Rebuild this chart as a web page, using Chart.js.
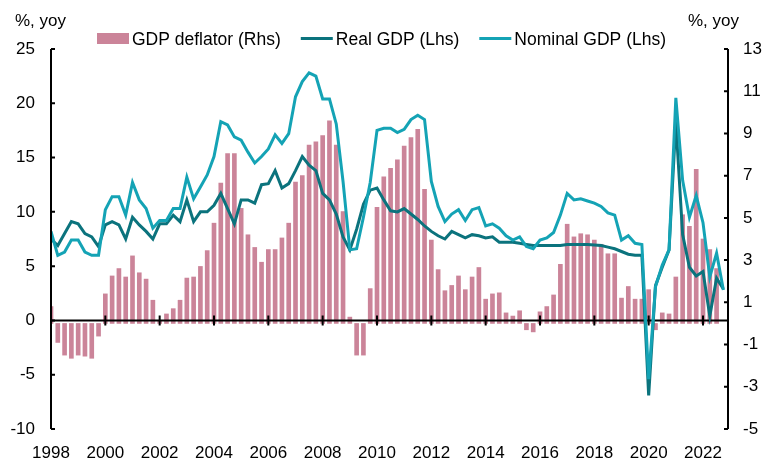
<!DOCTYPE html>
<html>
<head>
<meta charset="utf-8">
<script src="https://cdn.jsdelivr.net/npm/chart.js@4.4.1/dist/chart.umd.min.js"></script>
<style>
  html, body { margin: 0; padding: 0; background: #fff; }
</style>
</head>
<body>
<canvas id="gdpChart" width="762" height="459"></canvas>
<script>
// quarterly, 1998Q1 .. 2022Q4
const firstYear = 1998;
const lastYear = 2022;
const yearLabels = ['1998', '2000', '2002', '2004', '2006', '2008', '2010', '2012', '2014', '2016', '2018', '2020', '2022'];

const realGdp = [
  7.5, 6.9, 8.0, 9.1, 8.9, 8.0, 7.7, 6.8,
  8.8, 9.1, 8.8, 7.5, 9.5, 8.8, 8.2, 7.5,
  8.9, 8.9, 9.7, 9.1, 11.1, 9.1, 10.0, 10.0,
  10.6, 11.7, 10.3, 8.9, 11.1, 11.1, 10.8, 12.5,
  12.6, 13.8, 12.2, 12.6, 13.8, 15.1, 14.3, 13.8,
  11.7, 11.1, 9.8, 7.7, 6.5, 8.4, 10.7, 12.0,
  12.2, 11.1, 10.1, 10.0, 10.3, 9.8, 9.3, 8.7,
  8.2, 7.8, 7.5, 8.2, 7.9, 7.6, 7.9, 7.8,
  7.6, 7.7, 7.2, 7.2, 7.2, 7.1, 7.0, 6.9,
  6.9, 6.9, 6.9, 6.9, 7.0, 7.0, 7.0, 7.0,
  6.95, 6.9, 6.75, 6.6, 6.35, 6.1, 6.0, 6.0,
  -6.9, 3.2, 4.9, 6.5, 18.3, 7.9, 4.9, 4.1,
  4.5, 0.4, 3.9, 2.9
];

const nominalGdp = [
  8.2, 6.0, 6.3, 7.4, 7.4, 6.3, 6.0, 6.0,
  10.2, 11.4, 11.4, 9.7, 12.7, 11.1, 10.3, 8.5,
  9.2, 9.2, 10.3, 10.3, 13.2, 11.2, 12.3, 13.4,
  15.1, 18.3, 18.0, 16.9, 16.6, 15.5, 14.5, 15.1,
  15.8, 17.1, 16.3, 17.2, 20.6, 22.0, 22.8, 22.5,
  20.4, 20.4, 18.1, 12.8, 6.5, 6.6, 9.5, 12.7,
  17.5, 17.7, 17.7, 17.3, 17.6, 18.5, 18.9, 18.5,
  12.8, 10.5, 9.1, 9.8, 10.2, 9.2, 10.2, 10.4,
  8.7, 8.9, 8.5, 7.8, 7.4, 7.7, 6.8, 6.6,
  7.4, 7.6, 8.1, 9.7, 11.7, 11.1, 11.2, 11.0,
  10.8, 10.5, 9.9, 9.7, 7.4, 7.8, 7.1, 7.0,
  -5.4, 3.1, 5.1, 6.5, 20.5, 12.9, 9.5, 11.5,
  9.0, 4.0, 6.2, 2.8
];

const gdpDeflator = [
  0.8, -0.9, -1.5, -1.65, -1.5, -1.55, -1.65, -0.6,
  1.4, 2.25, 2.6, 2.2, 3.2, 2.4, 2.1, 1.1,
  0.1, 0.45, 0.7, 1.1, 2.15, 2.2, 2.7, 3.45,
  4.75, 6.65, 8.05, 8.05, 5.45, 4.2, 3.6, 2.9,
  3.5, 3.5, 4.05, 4.75, 6.7, 7.0, 8.45, 8.6,
  8.9, 9.6, 8.45, 5.3, 0.3, -1.5, -1.5, 1.65,
  5.5, 6.95, 7.35, 7.75, 8.4, 8.8, 9.2, 6.35,
  3.95, 2.55, 1.55, 1.8, 2.25, 1.6, 2.2, 2.65,
  1.15, 1.4, 1.45, 0.5, 0.35, 0.6, -0.3, -0.4,
  0.55, 0.8, 1.35, 2.8, 4.7, 4.1, 4.25, 4.2,
  3.95, 3.75, 3.3, 3.3, 1.2, 1.75, 1.15, 1.15,
  1.6, -0.3, 0.5, 0.45, 2.2, 5.15, 4.6, 7.3,
  4.0, 3.5, 2.6, null
];

// x position of each quarter in years
const quarterPos = [];
for (let y = firstYear; y <= lastYear; y++) {
  for (let q = 0; q < 4; q++) quarterPos.push(y + q / 4);
}
const toPoints = arr => arr.map((v, i) => ({ x: quarterPos[i], y: v }));

const FONT = "'Liberation Sans', Arial, sans-serif";
const PINK = '#CB8499';
const DARK = '#0B737D';
const CYAN = '#14A3B5';

Chart.defaults.font.family = FONT;
Chart.defaults.font.size = 17;
Chart.defaults.color = '#000';

// axis lines, zero line, inward ticks, legend and unit labels
const decor = {
  id: 'decor',
  afterDatasetDraw(chart, args) {
    if (args.index !== 0) return;
    const { ctx, chartArea: a, scales } = chart;
    const y0 = scales.yL.getPixelForValue(0);
    ctx.save();
    ctx.strokeStyle = '#000';
    ctx.lineWidth = 2;
    ctx.beginPath();
    ctx.moveTo(a.left, y0);
    ctx.lineTo(a.right, y0);
    scales.x.ticks.forEach(t => {
      const px = scales.x.getPixelForValue(t.value);
      ctx.moveTo(px, y0 - 5);
      ctx.lineTo(px, y0 + 5);
    });
    ctx.stroke();
    ctx.restore();
  },
  afterDraw(chart) {
    const { ctx, chartArea: a, scales } = chart;
    ctx.save();
    ctx.strokeStyle = '#000';
    ctx.lineWidth = 2;
    ctx.beginPath();
    ctx.moveTo(a.left, a.top);
    ctx.lineTo(a.left, a.bottom);
    ctx.moveTo(a.right, a.top);
    ctx.lineTo(a.right, a.bottom);
    scales.yL.ticks.forEach(t => {
      const py = scales.yL.getPixelForValue(t.value);
      ctx.moveTo(a.left, py);
      ctx.lineTo(a.left + 4, py);
    });
    scales.yR.ticks.forEach(t => {
      const py = scales.yR.getPixelForValue(t.value);
      ctx.moveTo(a.right - 4, py);
      ctx.lineTo(a.right, py);
    });
    ctx.stroke();

    ctx.fillStyle = '#000';
    ctx.font = '17px ' + FONT;
    ctx.textBaseline = 'alphabetic';
    ctx.textAlign = 'left';
    ctx.fillText('%, yoy', 15, 26);
    ctx.fillText('%, yoy', 688, 26);

    // legend
    let x = 97;
    const base = 45, mid = 38.5;
    chart.data.datasets.forEach(ds => {
      if (ds.type === 'bar') {
        ctx.fillStyle = ds.backgroundColor;
        ctx.fillRect(x, 33, 32, 11);
      } else {
        ctx.strokeStyle = ds.borderColor;
        ctx.lineWidth = 3;
        ctx.beginPath();
        ctx.moveTo(x, mid);
        ctx.lineTo(x + 32, mid);
        ctx.stroke();
      }
      ctx.fillStyle = '#000';
      ctx.font = '17.5px ' + FONT;
      ctx.fillText(ds.label, x + 35, base);
      x += 35 + ctx.measureText(ds.label).width + 20;
    });
    ctx.restore();
  }
};

new Chart(document.getElementById('gdpChart'), {
  data: {
    datasets: [
      {
        type: 'bar',
        label: 'GDP deflator (Rhs)',
        data: toPoints(gdpDeflator),
        backgroundColor: PINK,
        barThickness: 4,
        yAxisID: 'yR',
        order: 3,
        clip: 0
      },
      {
        type: 'line',
        label: 'Real GDP (Lhs)',
        data: toPoints(realGdp),
        borderColor: DARK,
        borderWidth: 3,
        pointRadius: 0,
        tension: 0,
        yAxisID: 'yL',
        order: 2
      },
      {
        type: 'line',
        label: 'Nominal GDP (Lhs)',
        data: toPoints(nominalGdp),
        borderColor: CYAN,
        borderWidth: 3,
        pointRadius: 0,
        tension: 0,
        yAxisID: 'yL',
        order: 1
      }
    ]
  },
  options: {
    responsive: false,
    animation: false,
    layout: { padding: { top: 49, left: 0, right: 0, bottom: 0 } },
    plugins: {
      legend: { display: false },
      tooltip: { enabled: false }
    },
    scales: {
      x: {
        type: 'linear',
        offset: false,
        min: firstYear,
        max: 2022.92,
        grid: { display: false, drawTicks: false, offset: false },
        border: { display: false },
        ticks: {
          stepSize: 2,
          includeBounds: false,
          autoSkip: false,
          maxRotation: 0,
          padding: 14,
          callback: v => yearLabels[(v - firstYear) / 2] || ''
        },
        afterFit: s => { s.height = 30; }
      },
      yL: {
        position: 'left',
        min: -10,
        max: 25,
        grid: { display: false, drawTicks: false },
        border: { display: false },
        ticks: { stepSize: 5, padding: 16 },
        afterFit: s => { s.width = 51; }
      },
      yR: {
        position: 'right',
        min: -5,
        max: 13,
        grid: { display: false, drawTicks: false },
        border: { display: false },
        ticks: { stepSize: 2, padding: 15 },
        afterFit: s => { s.width = 34; }
      }
    }
  },
  plugins: [decor]
});
</script>
</body>
</html>
